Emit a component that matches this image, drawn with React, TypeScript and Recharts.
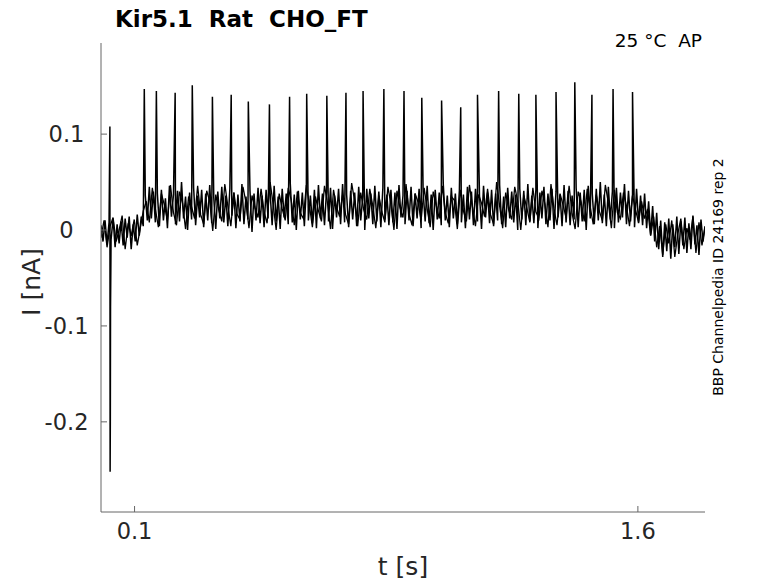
import React from 'react';
import { LineChart, Line, XAxis, YAxis } from 'recharts';

// sweep 1: sampled current, pA, one sample every SWEEP1_DT seconds from t = 0
const SWEEP1_DT = 0.006;
const sweep1PA = [
    5, -12, 10, -15, 8, -10, 12, -18, 6, -14,
    9, -16, 12, -8, 14, -20, 6, -12, 16, -6,
    14, 4, 36, 10, 45, 12, 40, 8, 38, 4,
    42, 10, 33, 2, 46, 14, 37, 6, 41, 9,
    50, 12, 35, 0, 39, 11, 44, 5, 36, 13,
    42, 3, 38, 10, 47, 7, 34, 1, 40, 12,
    45, 8, 36, 4, 43, 15, 39, 2, 37, 9,
    48, 6, 35, 11, 41, -2, 38, 10, 44, 7,
    36, 3, 42, 12, 39, 5, 46, 9, 35, 1,
    43, 13, 38, 6, 49, 8, 37, 0, 41, 11,
    39, 4, 45, 10, 36, 7, 42, 2, 47, 12,
    38, 5, 40, 9, 44, 1, 36, 13, 43, 6,
    48, 8, 37, 3, 41, 11, 39, 4, 45, 10,
    35, 0, 43, 12, 38, 6, 46, 9, 40, 3,
    44, 11, 37, 5, 42, 8, 39, 1, 47, 13,
    36, 6, 41, 10, 45, 4, 38, 12, 43, 2,
    40, 9, 46, 7, 37, 0, 42, 11, 39, 5,
    48, 10, 36, 3, 44, 12, 38, 6, 41, 8,
    37, 2, 45, 11, 40, 5, 43, 9, 36, 1,
    46, 13, 39, 7, 42, 4, 38, 10, 47, 6,
    35, 3, 44, 12, 40, 8, 37, 0, 43, 11,
    41, 5, 48, 9, 36, 7, 42, 2, 39, 12,
    45, 6, 38, 10, 43, 1, 40, 13, 37, 4,
    47, 8, 41, 5, 36, 11, 44, 3, 39, 9,
    42, 0, 46, 12, 38, 6, 43, 10, 50, 7,
    37, 4, 45, 11, 40, 2, 44, 8, 39, 13,
    48, 6, 41, 9, 37, 3, 43, 7, 36, 5,
    38, 2, 30, -5, 25, -12, 18, -20, 10, -28,
    8, -22, 12, -30, 6, -18, 14, -25, 9, -16,
    13, -24, 7, -20, 15, -15, 5, -26, 11, -12,
    4,
];

// sweep 2: overlapping repeat, pA, one sample every SWEEP2_DT seconds from t = 0
const SWEEP2_DT = 0.009;
const sweep2PA = [
    -8, 10, -18, 4, 13, -12, 0, 15, -20, 7, -6, 11, -16, 2,
    20, 30, 8, 44, 22, 3, 38, 26, 10, 47, 18, 5, 40, 28, 1,
    35, 24, 12, 46, 16, 6, 41, 30, -1, 37, 21, 9, 48, 25, 4,
    39, 17, 11, 45, 29, 2, 36, 23, 13, 43, 19, 7, 50, 27, 0,
    38, 22, 10, 44, 31, 5, 40, 18, 12, 47, 26, 3, 35, 20, 9,
    46, 28, 1, 42, 24, 14, 37, 16, 6, 49, 30, 4, 39, 21, 11,
    43, 25, 2, 36, 19, 8, 45, 27, 0, 41, 23, 13, 48, 17, 5,
    38, 29, 10, 44, 22, 3, 40, 26, 12, 46, 18, 7, 35, 31, 1,
    42, 20, 9, 47, 24, 4, 37, 28, 14, 43, 16, 6, 50, 25, 2,
    39, 21, 11, 45, 30, 0, 36, 23, 8, 44, 19, 12, 41, 27, 3,
    48, 22, 5, 38, 26, 13, 46, 17, 1, 40, 29, 9, 43, 24, 6,
    37, 20, 10, 47, 28, 2, 42, 18, 12, 39, 25, 4, 36, 21, 8,
    30, 12, 22, -6, 14, -18, 4, -26,
    6, -14, 10, -28, -4, 12, -20, 2, -10, 14, -24, 8, -16, 3,
];

// action potential clamp spikes
const spikeTimes = [
    0.129, 0.165, 0.221, 0.272, 0.332, 0.388, 0.439, 0.502, 0.562,
    0.613, 0.673, 0.730, 0.781, 0.843, 0.903, 0.956, 1.015, 1.072,
    1.122, 1.185, 1.245, 1.296, 1.356, 1.412, 1.463, 1.526, 1.584,
];
const spikePeaks = [
    0.147, 0.145, 0.143, 0.151, 0.139, 0.141, 0.134, 0.131, 0.139,
    0.142, 0.140, 0.143, 0.145, 0.147, 0.145, 0.138, 0.135, 0.128,
    0.141, 0.145, 0.142, 0.141, 0.144, 0.154, 0.141, 0.147, 0.144,
];

// capacitive transient at the start
const transientTimes = [0.0265, 0.0272, 0.0278, 0.0284];
const transientValues = [0.108, -0.252, -0.2, -0.08];

const yTicks = [-0.2, -0.1, 0, 0.1];
const xTicks = [0.1, 1.6];

const sweep1 = [
    ...sweep1PA.map((v, i) => ({ t: +(i * SWEEP1_DT).toFixed(4), i: v / 1000 })),
    ...spikeTimes.map((t, k) => ({ t, i: spikePeaks[k] })),
    ...transientTimes.map((t, k) => ({ t, i: transientValues[k] })),
].sort((a, b) => a.t - b.t);

const sweep2 = sweep2PA.map((v, i) => ({ t: +(i * SWEEP2_DT).toFixed(4), i: v / 1000 }));

const FONT = 'DejaVu Sans';
const tickStyle = { fontFamily: FONT, fontSize: 22.5, fill: '#262626' };

// y labels sit roughly centred in the gutter, like the original figure
const YTick = (props: any) => {
    const { y, payload } = props;
    return (
        <text x={66.5} y={y} dy="0.36em" textAnchor="middle" fontFamily={FONT} fontSize={22.5} fill="#262626">
            {String(payload.value)}
        </text>
    );
};

const App: React.FC = () => {
    return (
        <div style={{ position: 'absolute', left: 0, top: 0, width: 778, height: 583 }}>
            <LineChart width={778} height={583} margin={{ top: 43, right: 73, left: 0, bottom: 0 }}>
                <XAxis
                    dataKey="t"
                    type="number"
                    domain={[0, 1.8]}
                    ticks={xTicks}
                    allowDataOverflow
                    height={71}
                    stroke="#666"
                    tickSize={-6}
                    tickMargin={17}
                    tick={tickStyle}
                    tickFormatter={(v) => String(v)}
                />
                <YAxis
                    type="number"
                    domain={[-0.294, 0.195]}
                    ticks={yTicks}
                    allowDataOverflow
                    width={101}
                    stroke="#666"
                    tickSize={-6}
                    tick={<YTick />}
                />
                <Line data={sweep2} type="linear" dataKey="i" stroke="#000" strokeWidth={1.3} dot={false} isAnimationActive={false} />
                <Line data={sweep1} type="linear" dataKey="i" stroke="#000" strokeWidth={1.5} dot={false} isAnimationActive={false} />
            </LineChart>
            <svg width={778} height={583} style={{ position: 'absolute', left: 0, top: 0, pointerEvents: 'none' }}>
                <text x={115} y={27} fontFamily={FONT} fontSize={23} fontWeight="bold" fill="#000" style={{ whiteSpace: 'pre' }}>
                    Kir5.1  Rat  CHO_FT
                </text>
                <text x={702} y={47} textAnchor="end" fontFamily={FONT} fontSize={18.5} fill="#000" style={{ whiteSpace: 'pre' }}>
                    25 °C  AP
                </text>
                <text x={723} y={277} textAnchor="middle" fontFamily={FONT} fontSize={14} fill="#000" transform="rotate(-90 723 277)">
                    BBP Channelpedia ID 24169 rep 2
                </text>
                <text x={403} y={575} textAnchor="middle" fontFamily={FONT} fontSize={25} fill="#262626">
                    t [s]
                </text>
                <text x={40} y={282} textAnchor="middle" fontFamily={FONT} fontSize={25} fill="#262626" transform="rotate(-90 40 282)">
                    I [nA]
                </text>
            </svg>
        </div>
    );
};

export default App;
